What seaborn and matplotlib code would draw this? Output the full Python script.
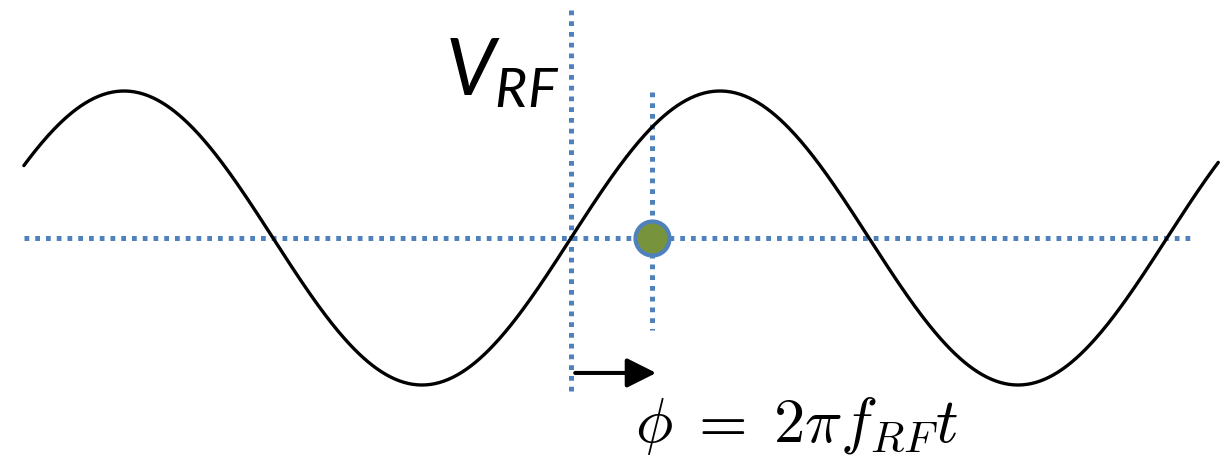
import numpy as np
import pandas as pd
import matplotlib.pyplot as plt
import seaborn as sns

# phase in periods, voltage in amplitude units
wave_start, wave_end = -0.918, 1.086
guide_x = [-0.918, 1.047]          # horizontal zero line
vline_main = [1.551, -1.068]       # vertical line at phase 0
marker_phase = 0.136
vline_marker = [0.993, -0.626]
arrow_y = -0.918
arrow_x = [0.007, 0.143]

blue = '#4F81BD'
green = '#77933C'

sns.set_style("white")
plt.rcParams['mathtext.it'] = 'Lato:italic'
plt.rcParams['mathtext.rm'] = 'Lato'

phase = np.linspace(wave_start, wave_end, 800)
wave = pd.DataFrame({'phase': phase, 'v': np.sin(2 * np.pi * phase)})

fig = plt.figure(figsize=(12.28, 4.61), dpi=100)
ax = fig.add_axes([0, 0, 1, 1])

dots = dict(color=blue, lw=3.6, linestyle=(0, (0.95, 1.2)), dash_capstyle='butt')
ax.plot(guide_x, [0, 0], **dots)
ax.plot([0, 0], vline_main, **dots)
ax.plot([marker_phase, marker_phase], vline_marker, **dots)

sns.lineplot(data=wave, x='phase', y='v', color='black', lw=2.4, ax=ax, sort=False)

sns.scatterplot(x=[marker_phase], y=[0], s=600, color=green, edgecolor=blue,
                linewidth=3.0, ax=ax, zorder=5)

ax.annotate('', xy=(arrow_x[1], arrow_y), xytext=(arrow_x[0], arrow_y),
            arrowprops=dict(arrowstyle='-|>,head_length=0.9,head_width=0.45',
                            mutation_scale=20, lw=2.9, color='black',
                            shrinkA=0, shrinkB=0))

ax.text(-0.211, 0.972, r'$V_{RF}$', fontsize=57, math_fontfamily='custom',
        color='black', ha='left', va='baseline')
ax.text(0.378, -1.385, r'$\phi\;=\;2\pi f_{RF} t$', fontsize=45, math_fontfamily='cm',
        color='black', ha='center', va='baseline')

ax.set_xlim(-571 / 596, (1228 - 571) / 596)
ax.set_ylim((238 - 461) / 147, 238 / 147)
ax.axis('off')
fig.savefig('out.png', dpi=100)
